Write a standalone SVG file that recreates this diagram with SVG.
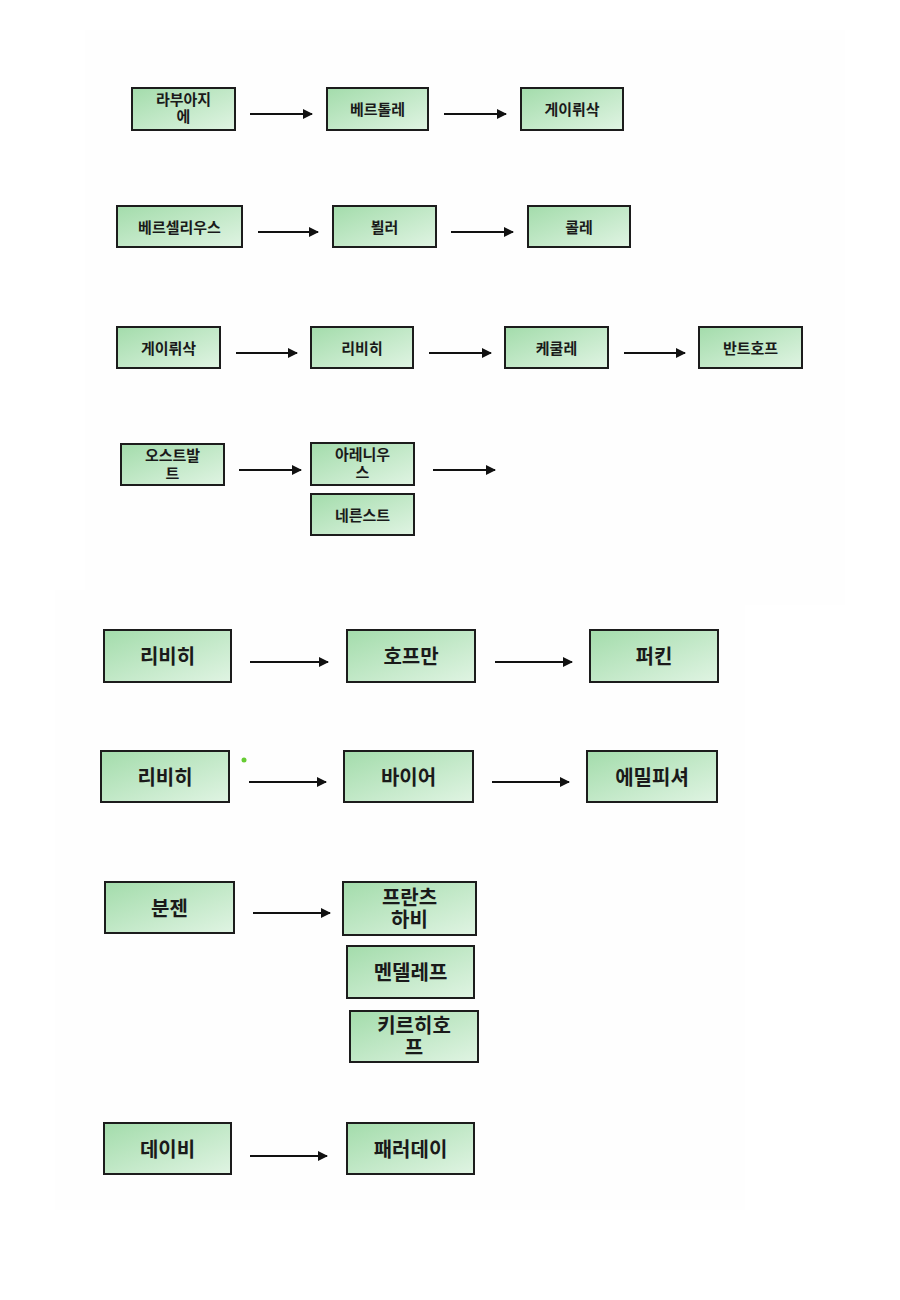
<svg xmlns="http://www.w3.org/2000/svg" width="900" height="1300" viewBox="0 0 900 1300">
<defs>
<linearGradient id="g" x1="0" y1="0" x2="1" y2="1">
<stop offset="0" stop-color="#a3dcab"/>
<stop offset="1" stop-color="#e0f4e3"/>
</linearGradient>
<marker id="ahb" viewBox="0 0 10 10" refX="9" refY="5" markerWidth="5" markerHeight="5" orient="auto">
<path d="M0,0 L10,5 L0,10 z" fill="#111"/>
</marker>
</defs>
<style>
rect.n{fill:url(#g);stroke:#1c1c1c;stroke-width:2}
text{font-family:"Liberation Sans","Noto Sans CJK KR",sans-serif;font-weight:bold;fill:#1a1a1a;text-anchor:middle}
.s{font-size:15px}
.b{font-size:20px}
.c line{stroke:#111;stroke-width:2;marker-end:url(#ahb)}
</style>
<rect width="900" height="1300" fill="#ffffff"/>
<rect x="85" y="30" width="760" height="575" fill="#fefefe"/>
<rect x="55" y="590" width="690" height="620" fill="#fefefe"/>

<g id="connectors" class="c">
<line x1="250" y1="114" x2="312" y2="114"/>
<line x1="444" y1="114" x2="506" y2="114"/>
<line x1="258" y1="232" x2="318" y2="232"/>
<line x1="451" y1="232" x2="513" y2="232"/>
<line x1="236" y1="353" x2="297" y2="353"/>
<line x1="429" y1="353" x2="491" y2="353"/>
<line x1="624" y1="353" x2="685" y2="353"/>
<line x1="239" y1="470" x2="301" y2="470"/>
<line x1="433" y1="470" x2="495" y2="470"/>
<line x1="250" y1="662" x2="328" y2="662"/>
<line x1="495" y1="662" x2="572" y2="662"/>
<line x1="249" y1="782" x2="326" y2="782"/>
<line x1="492" y1="782" x2="569" y2="782"/>
<line x1="253" y1="913" x2="330" y2="913"/>
<line x1="250" y1="1156" x2="327" y2="1156"/>
</g>

<g id="n1"><rect class="n" x="132" y="88" width="103" height="42"/><text class="s" x="183.5" y="105">라부아지</text><text class="s" x="183.5" y="122">에</text></g>
<g id="n2"><rect class="n" x="327" y="88" width="101" height="42"/><text class="s" x="377.5" y="115">베르톨레</text></g>
<g id="n3"><rect class="n" x="521" y="88" width="102" height="42"/><text class="s" x="572" y="115">게이뤼삭</text></g>

<g id="n4"><rect class="n" x="117" y="206" width="125" height="41"/><text class="s" x="179.5" y="233">베르셀리우스</text></g>
<g id="n5"><rect class="n" x="333" y="206" width="103" height="41"/><text class="s" x="384.5" y="233">뵐러</text></g>
<g id="n6"><rect class="n" x="528" y="206" width="102" height="41"/><text class="s" x="579" y="233">콜레</text></g>

<g id="n7"><rect class="n" x="117" y="327" width="103" height="41"/><text class="s" x="168.5" y="354">게이뤼삭</text></g>
<g id="n8"><rect class="n" x="311" y="327" width="102" height="41"/><text class="s" x="362" y="354">리비히</text></g>
<g id="n9"><rect class="n" x="505" y="327" width="103" height="41"/><text class="s" x="556.5" y="354">케쿨레</text></g>
<g id="n10"><rect class="n" x="699" y="327" width="103" height="41"/><text class="s" x="750.5" y="354">반트호프</text></g>

<g id="n11"><rect class="n" x="121" y="444" width="103" height="41"/><text class="s" x="172.5" y="461">오스트발</text><text class="s" x="172.5" y="479">트</text></g>
<g id="n12"><rect class="n" x="311" y="443" width="103" height="42"/><text class="s" x="362.5" y="460">아레니우</text><text class="s" x="362.5" y="478">스</text></g>
<g id="n13"><rect class="n" x="311" y="494" width="103" height="41"/><text class="s" x="362.5" y="521">네른스트</text></g>

<g id="n14"><rect class="n" x="104" y="630" width="127" height="52"/><text class="b" x="167.5" y="664">리비히</text></g>
<g id="n15"><rect class="n" x="347" y="630" width="128" height="52"/><text class="b" x="411" y="664">호프만</text></g>
<g id="n16"><rect class="n" x="590" y="630" width="128" height="52"/><text class="b" x="654" y="664">퍼킨</text></g>

<g id="n17"><rect class="n" x="101" y="751" width="128" height="51"/><text class="b" x="165" y="785">리비히</text></g>
<circle cx="244" cy="760" r="2.5" fill="#66cc33"/>
<g id="n18"><rect class="n" x="344" y="751" width="129" height="51"/><text class="b" x="408.5" y="785">바이어</text></g>
<g id="n19"><rect class="n" x="587" y="751" width="130" height="51"/><text class="b" x="652" y="785">에밀피셔</text></g>

<g id="n20"><rect class="n" x="105" y="882" width="129" height="51"/><text class="b" x="169.5" y="916">분젠</text></g>
<g id="n21"><rect class="n" x="343" y="882" width="133" height="53"/><text class="b" x="409.5" y="905">프란츠</text><text class="b" x="409.5" y="927">하비</text></g>
<g id="n22"><rect class="n" x="347" y="946" width="127" height="52"/><text class="b" x="410.5" y="980">멘델레프</text></g>
<g id="n23"><rect class="n" x="350" y="1011" width="128" height="51"/><text class="b" x="414" y="1033">키르히호</text><text class="b" x="414" y="1055">프</text></g>

<g id="n24"><rect class="n" x="104" y="1123" width="127" height="51"/><text class="b" x="167.5" y="1157">데이비</text></g>
<g id="n25"><rect class="n" x="347" y="1123" width="127" height="51"/><text class="b" x="410.5" y="1157">패러데이</text></g>
</svg>
